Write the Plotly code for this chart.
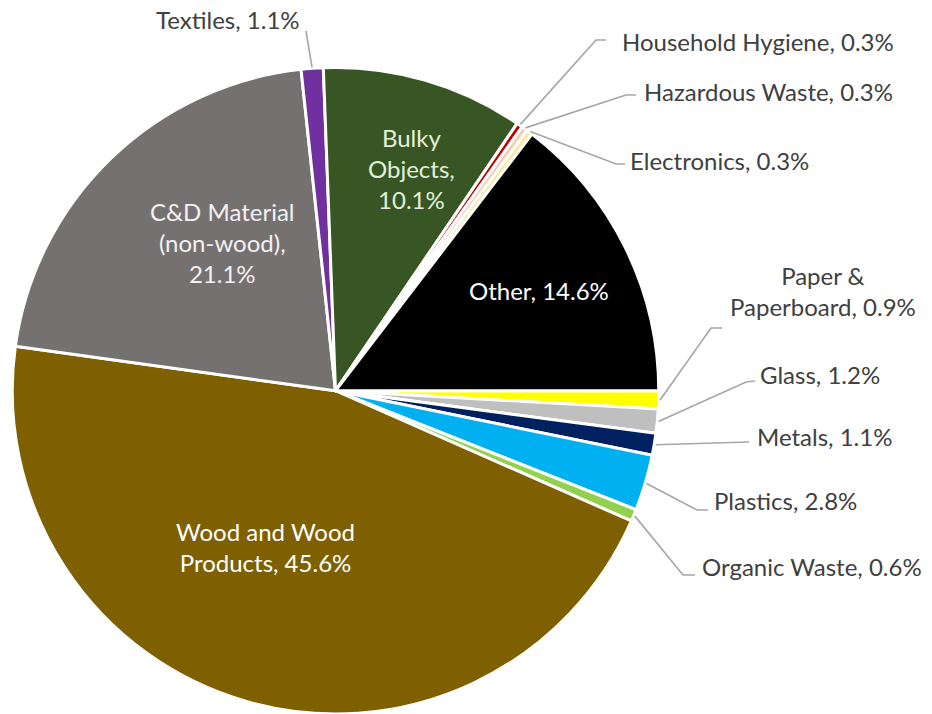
import math
import plotly.graph_objects as go

# ---------------- data ----------------
categories = ["Paper & Paperboard", "Glass", "Metals", "Plastics", "Organic Waste",
              "Wood and Wood Products", "C&D Material (non-wood)", "Textiles",
              "Bulky Objects", "Household Hygiene", "Hazardous Waste", "Electronics",
              "Other"]
shares = [0.9, 1.2, 1.1, 2.8, 0.6, 45.6, 21.1, 1.1, 10.1, 0.3, 0.3, 0.3, 14.6]
display_names = ["Paper &<br>Paperboard", "Glass", "Metals", "Plastics", "Organic Waste",
                 "Wood and Wood<br>Products", "C&D Material<br>(non-wood)", "Textiles",
                 "Bulky<br>Objects", "Household Hygiene", "Hazardous Waste", "Electronics",
                 "Other"]
separators = [", ", ", ", ", ", ", ", ", ",
              ", ", ",<br>", ", ",
              ",<br>", ", ", ", ", ", ",
              ", "]
colors = ["#FFFF00", "#BFBFBF", "#002060", "#00B0F0", "#92D050",
          "#7F6000", "#767171", "#7030A0", "#375623", "#C00000",
          "#F8CBAD", "#FFE699", "#000000"]

labels_text = [f"{n}{s}{v:.1f}%" for n, s, v in zip(display_names, separators, shares)]

# ---------------- layout constants (pixels) ----------------
W, H = 932, 714
CX, CY, R = 335.5, 391.0, 323.5
FONT = "Lato, 'Open Sans', sans-serif"
FONT_SIZE = 24
TEXT_COLOR = "#404040"
LEADER_COLOR = "#A6A6A6"

# labels drawn inside their slices: centre position and colour
inside_layout = {
    "Wood and Wood Products":  dict(text=(265, 547), color="#FFFFFF"),
    "C&D Material (non-wood)": dict(text=(222, 242), color="#F2F2F2"),
    "Bulky Objects":           dict(text=(411, 168), color="#E2F0D9"),
    "Other":                   dict(text=(539, 290), color="#FFFFFF"),
}

# outside label placement: text anchor (x, y, xanchor) and leader bend points
outside_layout = {
    "Textiles":           dict(text=(302, 19, "right"),  bends=[(306, 31)]),
    "Household Hygiene":  dict(text=(620, 41, "left"),   bends=[(596, 40), (606, 40)]),
    "Hazardous Waste":    dict(text=(642, 92, "left"),   bends=[(626, 95), (636, 95)]),
    "Electronics":        dict(text=(628, 160, "left"),  bends=[(616, 164), (625, 164)]),
    "Paper & Paperboard": dict(text=(823, 291, "center"), bends=[(711, 328), (722, 328)]),
    "Glass":              dict(text=(758, 374, "left"),  bends=[(746, 382), (755, 381)]),
    "Metals":             dict(text=(755, 436, "left"),  bends=[(749, 442)]),
    "Plastics":           dict(text=(712, 501, "left"),  bends=[(697, 510), (708, 510)]),
    "Organic Waste":      dict(text=(700, 566, "left"),  bends=[(683, 575), (695, 575)]),
}


def px_to_paper(x, y):
    return x / W, 1 - y / H


# ---------------- pie ----------------
x0, _ = px_to_paper(CX - R, 0)
x1, _ = px_to_paper(CX + R, 0)
_, y1 = px_to_paper(0, CY - R)
_, y0 = px_to_paper(0, CY + R)

fig = go.Figure(go.Pie(
    labels=categories,
    values=shares,
    textinfo="none",
    marker=dict(colors=colors, line=dict(color="#FFFFFF", width=3)),
    sort=False,
    direction="clockwise",
    rotation=90,
    hole=0,
    showlegend=False,
    hoverinfo="label+percent",
    domain=dict(x=[x0, x1], y=[max(y0, 0), y1]),
))

# ---------------- labels with leader lines ----------------
total = sum(shares)
cum = 0.0
shapes = []
annotations = []
for cat, val, txt in zip(categories, shares, labels_text):
    mid = (cum + val / 2) / total
    cum += val
    if cat in inside_layout:
        tx, ty = inside_layout[cat]["text"]
        ax, ay = px_to_paper(tx, ty)
        annotations.append(dict(text=txt, x=ax, y=ay, xref="paper", yref="paper",
                                xanchor="center", yanchor="middle", showarrow=False,
                                align="center",
                                font=dict(family=FONT, size=FONT_SIZE,
                                          color=inside_layout[cat]["color"])))
        continue
    ang = 2 * math.pi * mid  # clockwise from 3 o'clock (screen y down)
    ex = CX + (R + 1) * math.cos(ang)
    ey = CY + (R + 1) * math.sin(ang)
    pts = [(ex, ey)] + outside_layout[cat]["bends"]
    path = " ".join(("M" if i == 0 else "L") + " {:.5f},{:.5f}".format(*px_to_paper(px, py))
                    for i, (px, py) in enumerate(pts))
    shapes.append(dict(type="path", path=path, xref="paper", yref="paper",
                       line=dict(color=LEADER_COLOR, width=1.6)))
    tx, ty, anchor = outside_layout[cat]["text"]
    ax, ay = px_to_paper(tx, ty)
    annotations.append(dict(text=txt, x=ax, y=ay, xref="paper", yref="paper",
                            xanchor=anchor, yanchor="middle", showarrow=False,
                            align="center",
                            font=dict(family=FONT, size=FONT_SIZE, color=TEXT_COLOR)))

fig.update_layout(
    width=W, height=H,
    margin=dict(l=0, r=0, t=0, b=0),
    paper_bgcolor="#FFFFFF",
    plot_bgcolor="#FFFFFF",
    shapes=shapes,
    annotations=annotations,
    font=dict(family=FONT),
)

fig.write_html("out.html", config={"displayModeBar": False},
               post_script="document.body.style.margin='0';")
